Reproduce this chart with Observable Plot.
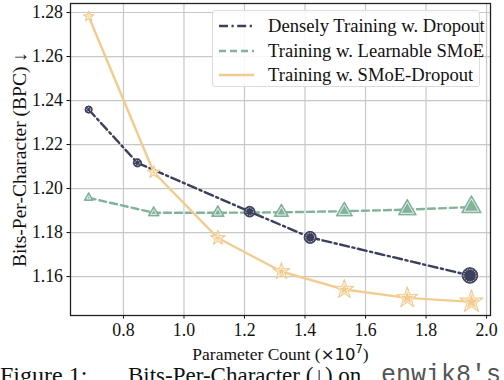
<!DOCTYPE html>
<html>
<head>
<meta charset="utf-8">
<script src="https://cdn.jsdelivr.net/npm/d3@7"></script>
<script src="https://cdn.jsdelivr.net/npm/@observablehq/plot@0.6"></script>
<style>
  html, body { margin: 0; padding: 0; background: #fff; }
  #wrap { position: relative; width: 504px; height: 380px; overflow: hidden; font-family: "Liberation Serif", "Times New Roman", serif; }
  #chart svg, #chart svg text, #chart svg g { font-family: "Liberation Serif", "Times New Roman", serif; }
  #chart svg text { font-size: 17.8px; fill: #111; }
  #chart g[aria-label="y-axis label"] text { font-size: 19.5px !important; }
  #chart g[aria-label="x-axis label"] text { font-size: 17.5px !important; }
  #legend { position: absolute; left: 212px; top: 10px; width: 268px; height: 77px; border: 1px solid #dcdcdc; border-radius: 3px; background: rgba(255,255,255,0.85); box-sizing: border-box; }
  .lg { position: absolute; left: 5px; height: 22px; display: flex; align-items: center; font-size: 18.6px; color: #111; white-space: nowrap; }
  .lg svg { margin-right: 13px; }
  .cap { position: absolute; top: 363px; font-size: 24px; line-height: 24px; white-space: nowrap; color: #111; }
  .mono { font-family: "Liberation Mono", "DejaVu Sans Mono", monospace; font-size: 25px; color: #555; font-weight: 300; }
</style>
</head>
<body>
<div id="wrap">
  <div id="chart"></div>
  <div id="legend"></div>
  <div class="cap" style="left:0px">Figure 1:</div>
  <div class="cap" style="left:128px; top:364px; font-size:23px; line-height:23px">Bits-Per-Character (↓) on</div>
  <div class="cap mono" style="left:381px; top:364px">enwik8's</div>
</div>
<script>
// ---- data ----
const denseX = [0.685, 0.846, 1.217, 1.417, 1.945];
const denseY = [1.2359, 1.2117, 1.1895, 1.1778, 1.1605];

const learnX = [0.685, 0.900, 1.112, 1.322, 1.530, 1.738, 1.950];
const learnY = [1.1958, 1.1890, 1.1890, 1.1892, 1.1897, 1.1904, 1.1916];

const smoeX = [0.685, 0.900, 1.112, 1.322, 1.530, 1.738, 1.950];
const smoeY = [1.2782, 1.2074, 1.1775, 1.1623, 1.1541, 1.1503, 1.1485];

const seriesNames = ["Densely Training w. Dropout", "Training w. Learnable SMoE", "Training w. SMoE-Dropout"];
const colors = ["#3d405b", "#81b29a", "#f2cc8f"];
const xTicks = [0.8, 1.0, 1.2, 1.4, 1.6, 1.8, 2.0];
const yTicks = [1.16, 1.18, 1.20, 1.22, 1.24, 1.26, 1.28];

const toRows = (xs, ys) => xs.map((x, i) => ({x, y: ys[i]}));
const dense = toRows(denseX, denseY);
const learn = toRows(learnX, learnY);
const smoe = toRows(smoeX, smoeY);

// marker size grows with parameter count
const rOf = x => 3.6 + (x - 0.685) / (1.95 - 0.685) * 4.2;

const font = "Liberation Serif, Times New Roman, serif";

const chart = Plot.plot({
  width: 504,
  height: 372,
  marginLeft: 70,
  marginRight: 14,
  marginTop: 3,
  marginBottom: 57,
  style: {fontFamily: font, fontSize: "17.8px", color: "#111", background: "transparent"},
  x: {domain: [0.625, 2.013]},
  y: {domain: [1.1423, 1.2841]},
  r: {type: "identity"},
  marks: [
    Plot.gridX(xTicks, {stroke: "#c8c8c8", strokeOpacity: 1, strokeWidth: 1.2}),
    Plot.gridY(yTicks, {stroke: "#c8c8c8", strokeOpacity: 1, strokeWidth: 1.2}),
    Plot.axisX(xTicks, {tickFormat: d3.format(".1f"), tickSize: 3.5, tickPadding: 4, fontSize: 17.8,
      label: "Parameter Count (×10⁷)", labelAnchor: "center", labelOffset: 44, labelArrow: false}),
    Plot.axisY(yTicks, {tickFormat: d3.format(".2f"), tickSize: 3.5, tickPadding: 4, fontSize: 17.8,
      label: "Bits-Per-Character (BPC) ↓", labelAnchor: "center", labelOffset: 58, labelArrow: false}),
    Plot.frame({stroke: "#222", strokeWidth: 1.3}),
    // lines
    Plot.line(learn, {x: "x", y: "y", stroke: colors[1], strokeWidth: 2.4, strokeDasharray: "7,4"}),
    Plot.line(dense, {x: "x", y: "y", stroke: colors[0], strokeWidth: 2.4, strokeDasharray: "9,3.5,2.2,3.5"}),
    Plot.line(smoe, {x: "x", y: "y", stroke: colors[2], strokeWidth: 2.4}),
    // markers
    Plot.dot(learn, {x: "x", y: "y", r: d => rOf(d.x) * 0.95, symbol: "triangle", fill: colors[1], stroke: colors[1], strokeWidth: 1}),
    Plot.dot(learn, {x: "x", y: "y", r: d => rOf(d.x) * 0.95 - 2, symbol: "triangle", fill: "none", stroke: "#fff", strokeWidth: 0.8}),
    Plot.dot(dense, {x: "x", y: "y", r: d => rOf(d.x), symbol: "circle", fill: colors[0], stroke: colors[0], strokeWidth: 1}),
    Plot.dot(dense, {x: "x", y: "y", r: d => rOf(d.x) - 1.6, symbol: "circle", fill: "none", stroke: "#fff", strokeWidth: 0.7, strokeDasharray: "1.5,1"}),
    Plot.dot(smoe, {x: "x", y: "y", r: d => rOf(d.x) * 0.95, symbol: "star", fill: colors[2], stroke: colors[2], strokeWidth: 1}),
    Plot.dot(smoe, {x: "x", y: "y", r: d => rOf(d.x) * 0.95 - 2, symbol: "star", fill: "none", stroke: "#fff", strokeWidth: 0.7})
  ]
});
document.getElementById("chart").appendChild(chart);

// x label: math part "×10⁷" in a sans face, like matplotlib mathtext
const xl = chart.querySelector('g[aria-label="x-axis label"] text');
if (xl) {
  xl.textContent = "";
  const ns = "http://www.w3.org/2000/svg";
  const parts = [
    {t: "Parameter Count ("},
    {t: "×10", ff: "DejaVu Sans", fs: "16.5px"},
    {t: "7", ff: "DejaVu Sans", fs: "11.5px", dy: -7},
    {t: ")", dy: 7}
  ];
  parts.forEach(p => {
    const ts = document.createElementNS(ns, "tspan");
    ts.textContent = p.t;
    if (p.ff) ts.setAttribute("style", `font-family:${p.ff};font-size:${p.fs}`);
    if (p.dy) ts.setAttribute("dy", p.dy);
    xl.appendChild(ts);
  });
}

// legend
const dashes = ["9,3.5,2.2,3.5", "7,4", null];
const legend = document.getElementById("legend");
seriesNames.forEach((name, i) => {
  const row = document.createElement("div");
  row.className = "lg";
  row.style.top = (4 + i * 24.5) + "px";
  row.innerHTML = `<svg width="37" height="10"><line x1="1" y1="5" x2="36" y2="5" stroke="${colors[i]}" stroke-width="2.4" ${dashes[i] ? `stroke-dasharray="${dashes[i]}"` : ""}/></svg><span>${name}</span>`;
  legend.appendChild(row);
});
</script>
</body>
</html>
